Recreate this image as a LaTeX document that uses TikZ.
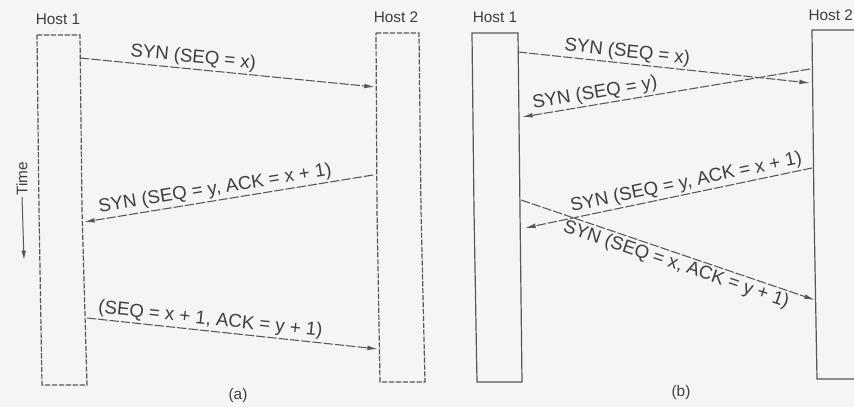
\documentclass[tikz,border=0pt]{standalone}
\usepackage{fontspec}
\setmainfont{Liberation Sans}
\usetikzlibrary{arrows.meta}

\definecolor{inkgray}{RGB}{88,88,92}
\definecolor{txtgray}{RGB}{62,62,66}
\definecolor{papergray}{RGB}{243,245,247}

\tikzset{every picture/.style={line width=0.75pt}}
\tikzset{
  hostbox/.style={draw=inkgray, line width=0.9pt},
  hostboxa/.style={hostbox, dash pattern={on 4pt off 1.2pt}},
  msg/.style={draw=inkgray, line width=0.8pt, dash pattern={on 7pt off 1.5pt},
    -{Latex[length=8pt,width=3.5pt]}},
  lbl/.style={text=txtgray, font=\fontsize{14}{16}\selectfont, inner sep=1.5pt},
  hostlbl/.style={text=txtgray, font=\fontsize{11.5}{13}\selectfont, inner sep=0.75pt}
}

\begin{document}
\begin{tikzpicture}[x=0.75pt,y=-0.75pt]
				\useasboundingbox (0,0) rectangle (854,407);
				\fill [papergray] (0,0) rectangle (854,407);
				\clip (0,0) rectangle (854,407);
				
				%Host boxes (a)
				\draw [hostboxa] (37,35) -- (80,35) -- (82,210) -- (87,385) -- (42,385) -- (39,210) -- cycle ;
				\draw [hostboxa] (376,33) -- (419,33) -- (421,210) -- (425,382) -- (380,382) -- (377,210) -- cycle ;
				%Host boxes (b)
				\draw [hostbox] (472,33) -- (518,33) -- (520,210) -- (522,382) -- (477,382) -- (474,210) -- cycle ;
				\draw [hostbox] (900,30) -- (812,30) -- (814,210) -- (817,379) -- (900,379) ;
				
				% Text Node
				\draw (58,19) node (h1a) [hostlbl] {Host 1};
				% Text Node
				\draw (396,17) node (h2a) [hostlbl] {Host 2};
				% Text Node
				\draw (495,17) node (h1b) [hostlbl] {Host 1};
				% Text Node
				\draw (807,15) node (h2b) [hostlbl, anchor=west] {Host 2};
				
				%Message end points
				\coordinate (a1s) at (80,58);  \coordinate (a1e) at (375,87);
				\coordinate (a2s) at (373,175); \coordinate (a2e) at (84,222);
				\coordinate (a3s) at (87,318); \coordinate (a3e) at (378,349);
				\coordinate (b1s) at (518,52); \coordinate (b1e) at (810,83);
				\coordinate (b2s) at (810,69); \coordinate (b2e) at (522,117);
				\coordinate (b3s) at (812,168); \coordinate (b3e) at (525,228);
				\coordinate (b4s) at (521,200); \coordinate (b4e) at (815,300);
				
				%Messages (a)
				\draw [msg] (a1s) -- (a1e) node [lbl, sloped, above, pos=0.38] {SYN (SEQ = x)};
				\draw [msg] (a2s) -- (a2e) node [lbl, sloped, above, pos=0.54] {SYN (SEQ = y, ACK = x + 1)};
				\draw [msg] (a3s) -- (a3e) node [lbl, sloped, above, pos=0.42] {(SEQ = x + 1, ACK = y + 1)};
				%Messages (b)
				\draw [msg] (b1s) -- (b1e) node [lbl, sloped, above, pos=0.37] {SYN (SEQ = x)};
				\draw [msg] (b2s) -- (b2e) node [lbl, sloped, above, pos=0.74] {SYN (SEQ = y)};
				\draw [msg] (b3s) -- (b3e) node [lbl, sloped, above, pos=0.43] {SYN (SEQ = y, ACK = x + 1)};
				\draw [msg] (b4s) -- (b4e) node [lbl, sloped, below, pos=0.54] {SYN (SEQ = x, ACK = y + 1)};
				
				%Time axis
				\draw (22,197) node (time) [hostlbl, rotate=90, anchor=west] {Time};
				\coordinate (timeend) at (24,260);
				\draw [draw=inkgray, -{Latex[length=7pt,width=3.5pt]}] (time.west) -- (timeend);
				
				% Text Node
				\draw (238,396) node (capa) [hostlbl] {(a)};
				% Text Node
				\draw (681,393) node (capb) [hostlbl] {(b)};
				
			\end{tikzpicture}
\end{document}
